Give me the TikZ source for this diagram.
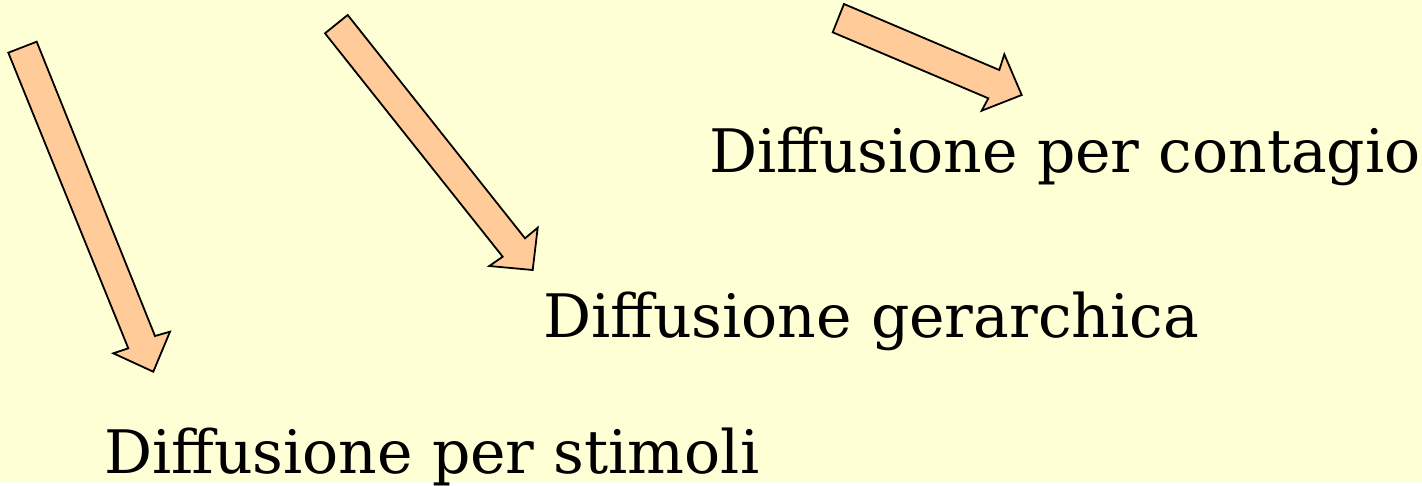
\documentclass[tikz,border=0pt]{standalone}
\usepackage{fontspec}
\setmainfont{DejaVu Serif}
\begin{document}
\begin{tikzpicture}[x=1pt,y=-1pt,font=\fontsize{60}{66}\selectfont]
  \definecolor{gback}{HTML}{FFFFD5}
  \definecolor{garrow}{HTML}{FFCC99}
  \tikzset{blockarrow/.style={fill=garrow,draw=black,line width=1.8pt,line join=miter},
           lbl/.style={anchor=base west,inner sep=0pt}}
  \fill[gback] (0,0) rectangle (1422,482);
  % frecce
  \draw[blockarrow] (8.3,52.7) -- (36.7,41.7) -- (155,336) -- (170,331.7)
    -- (153.3,371.7) -- (113.3,353.3) -- (128.3,348.3) -- cycle;
  \draw[blockarrow] (325,33.3) -- (347.7,15) -- (525,238.3) -- (537.7,227.7)
    -- (532.7,270) -- (489.3,266) -- (502.7,256.7) -- cycle;
  \draw[blockarrow] (844,4) -- (832.7,32.3) -- (988.3,98.3) -- (981.7,110.7)
    -- (1021.7,95) -- (1004.3,54.3) -- (999.3,70) -- cycle;
  % etichette
  \node[lbl] (contagio) at (709,172) {Diffusione per contagio};
  \node[lbl] (gerarchica) at (543,337) {Diffusione gerarchica};
  \node[lbl] (stimoli) at (104,473) {Diffusione per stimoli};
  \path[use as bounding box] (0,0) rectangle (1422,482);
\end{tikzpicture}
\end{document}
